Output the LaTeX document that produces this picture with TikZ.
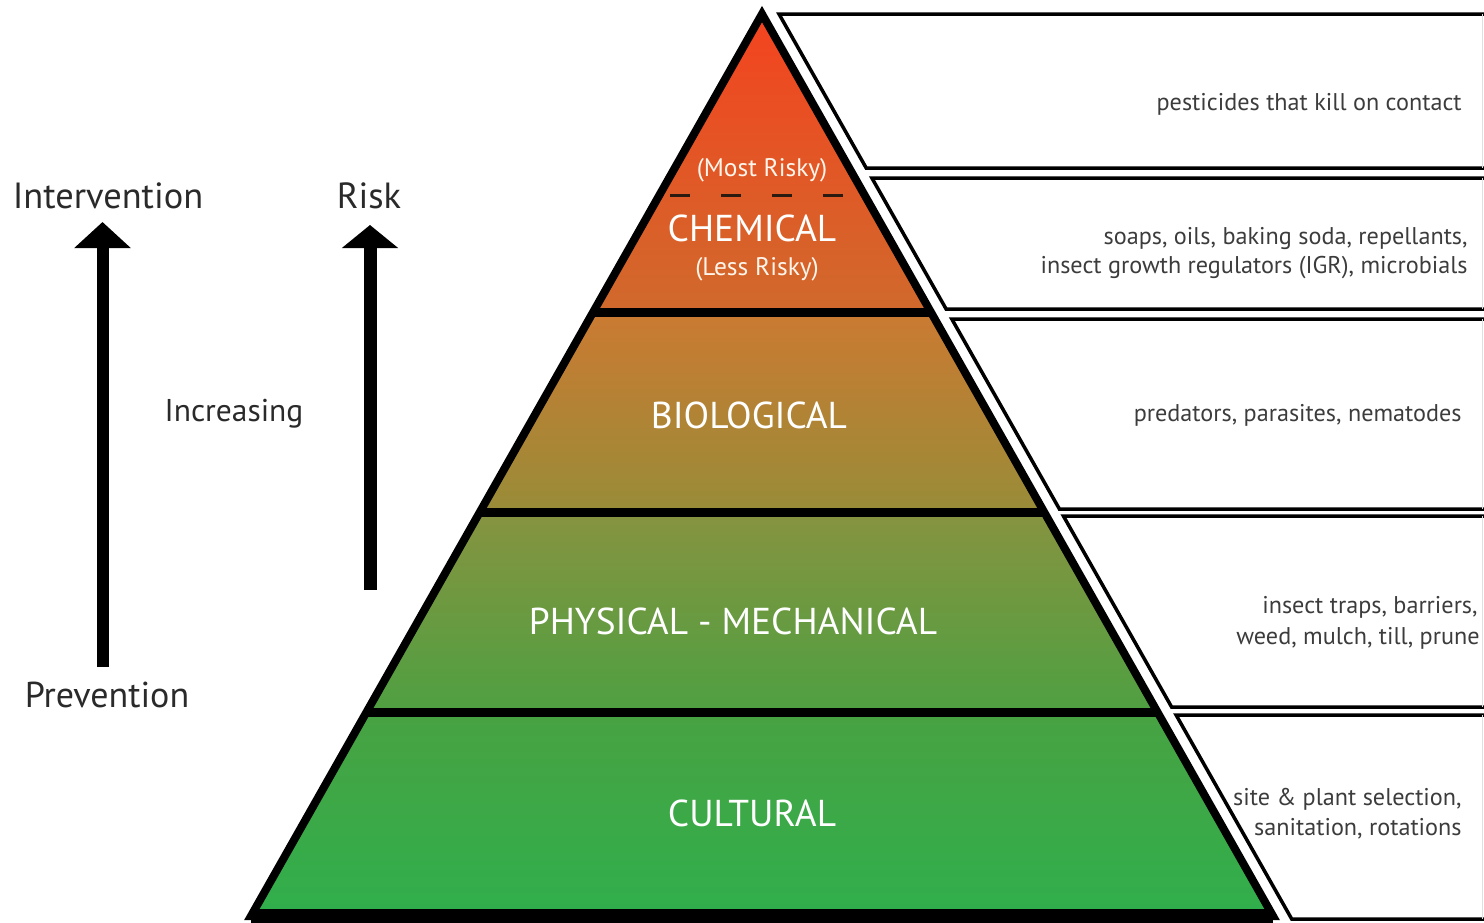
\documentclass[tikz,border=0pt]{standalone}
\usepackage{fontspec}
\setmainfont{PT Sans}
\usetikzlibrary{arrows.meta}
\definecolor{ink}{HTML}{2A2A2A}
\definecolor{sidegray}{HTML}{3C3C3C}
\definecolor{cTop}{HTML}{F4431F}
\definecolor{cChemB}{HTML}{D06A2C}
\definecolor{cBioT}{HTML}{CB7A32}
\definecolor{cBioB}{HTML}{988C38}
\definecolor{cPhyT}{HTML}{879340}
\definecolor{cPhyB}{HTML}{4EA041}
\definecolor{cCulT}{HTML}{48A242}
\definecolor{cCulB}{HTML}{30AF4C}
\definecolor{dashc}{HTML}{2A1A10}
\begin{document}
\begin{tikzpicture}[x=0.5pt,y=-0.5pt,
  lbl/.style={text=ink, inner sep=0pt, anchor=base},
  pyr/.style={text=white, inner sep=0pt, anchor=base, font=\fontsize{18.7}{22}\selectfont},
  risky/.style={text=white!92!orange, inner sep=0pt, anchor=base, font=\fontsize{12.7}{15}\selectfont},
  side/.style={text=sidegray, inner sep=0pt, anchor=base east, font=\fontsize{12.1}{15}\selectfont},
  boxline/.style={draw=black, line width=1.75pt},
  uparrow/.style={draw=black, line width=6pt, -{Triangle[width=27.5pt,length=13pt]}},
]
\useasboundingbox (0,0) rectangle (1484,922);

% pyramid corners
\coordinate (A) at (762,14);
\coordinate (BL) at (251,916);
\coordinate (BR) at (1273,916);

% bands
\begin{scope}
  \clip (A) -- (BL) -- (BR) -- cycle;
  \shade[top color=cTop, bottom color=cChemB] (200,14) rectangle (1300,312);
  \shade[top color=cBioT, bottom color=cBioB] (200,312) rectangle (1300,512);
  \shade[top color=cPhyT, bottom color=cPhyB] (200,512) rectangle (1300,712);
  \shade[top color=cCulT, bottom color=cCulB] (200,712) rectangle (1300,916);
  \draw[line width=4.5pt] (200,312) -- (1300,312);
  \draw[line width=4.5pt] (200,512) -- (1300,512);
  \draw[line width=4.5pt] (200,712) -- (1300,712);
  \draw[dashc, line width=1.5pt, dash pattern=on 10pt off 15.5pt] (670,195) -- (850,195);
\end{scope}
\draw[line width=4pt, line join=miter] (A) -- (BL) -- (BR) -- cycle;
\draw[line width=7pt] (BL) -- (BR);

% side boxes
\draw[boxline] (1490,14) -- (779,14) -- (866.2,168) -- (1490,168);
\draw[boxline] (1490,178) -- (871.9,178) -- (946.1,309) -- (1490,309);
\draw[boxline] (1490,319) -- (951.8,319) -- (1059.4,509) -- (1490,509);
\draw[boxline] (1490,516) -- (1063.4,516) -- (1171.6,707) -- (1490,707);
\draw[boxline] (1490,715) -- (1176.1,715) -- (1291.7,919) -- (1490,919);
\foreach \a/\b in {14/168,178/309,319/509,516/707,715/919}
  \draw[black!12, line width=0.5pt] (1482,\a) -- (1482,\b);

% pyramid labels
\node[risky] (most) at (762,176) {(Most Risky)};
\node[pyr] (chem) at (752,241) {CHEMICAL};
\node[risky] (less) at (757,275) {(Less Risky)};
\node[pyr] (bio) at (749,428) {BIOLOGICAL};
\node[pyr] (phys) at (733,634) {PHYSICAL - MECHANICAL};
\node[pyr] (cult) at (752,826) {CULTURAL};

% side texts
\node[side] (s1) at (1462,110) {pesticides that kill on contact};
\node[side] (s2a) at (1468,244) {soaps, oils, baking soda, repellants,};
\node[side] (s2b) at (1468,273) {insect growth regulators (IGR), microbials};
\node[side] (s3) at (1462,421) {predators, parasites, nematodes};
\node[side] (s4a) at (1478,613) {insect traps, barriers,};
\node[side] (s4b) at (1480,644) {weed, mulch, till, prune};
\node[side] (s5a) at (1462,805) {site \& plant selection,};
\node[side] (s5b) at (1462,835) {sanitation, rotations};

% left labels
\node[lbl, font=\fontsize{18.2}{22}\selectfont] (interv) at (108,208) {Intervention};
\node[lbl, font=\fontsize{18.2}{22}\selectfont] (risk) at (369,208) {Risk};
\node[lbl, font=\fontsize{15.75}{19}\selectfont] (incr) at (234,421) {Increasing};
\node[lbl, font=\fontsize{18}{22}\selectfont] (prev) at (107,707) {Prevention};

% arrows
\coordinate (ia0) at (102.5,667);
\coordinate (ia1) at (102.5,222);
\coordinate (ra0) at (370,590);
\coordinate (ra1) at (370,225);
\draw[uparrow] (ia0) -- (ia1);
\draw[uparrow, line width=6.5pt, -{Triangle[width=27.5pt,length=11.5pt]}] (ra0) -- (ra1);
\end{tikzpicture}
\end{document}
